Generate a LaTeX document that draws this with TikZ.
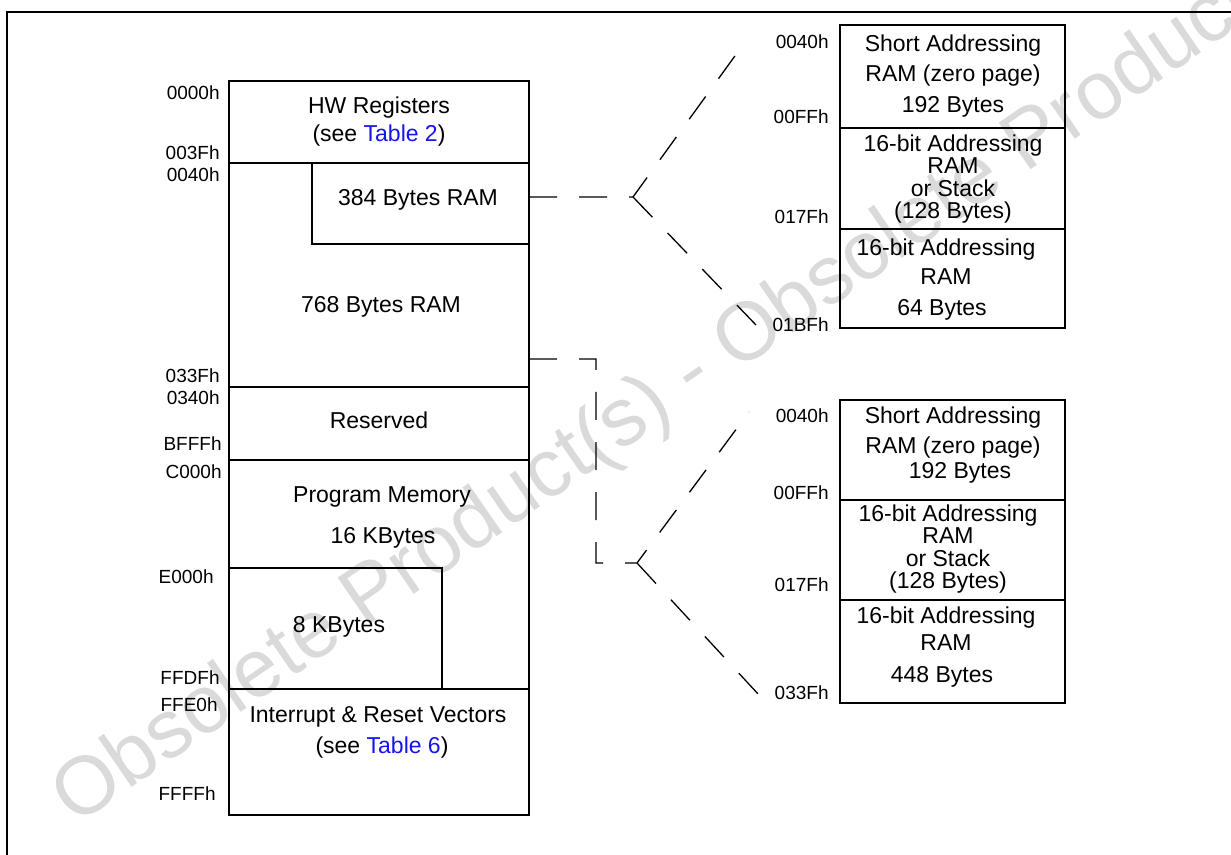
\documentclass[tikz,border=0pt]{standalone}
\usepackage{fontspec}
\setmainfont{Liberation Sans}
\definecolor{linkblue}{RGB}{20,20,235}
\definecolor{wmgray}{RGB}{218,218,218}

\begin{document}
\begin{tikzpicture}[x=0.5pt, y=-0.5pt,
		box/.style={line width=1pt},
		link/.style={line width=0.65pt, dash pattern=on 14pt off 11pt},
		txt/.style={font=\fontsize{11.5}{14}\selectfont, inner sep=0pt, align=center},
		addr/.style={font=\fontsize{9.5}{11}\selectfont, inner sep=0pt, anchor=east}]
		\useasboundingbox (0,0) rectangle (1231,855);
		% watermark
		\node[rotate=34.5, anchor=base west, inner sep=0pt, text=wmgray, font=\fontsize{41}{41}\selectfont] (wm) at (75,827) {Obsolete Product(s) - Obsolete Product(s)};
		\draw[box] (7,870) -- (7,12) -- (1240,12);
		% main map
		\draw[box] (229,81) rectangle (529,815);
		\draw[box] (229,163) -- (529,163);
		\draw[box] (312,163) rectangle (529,244);
		\draw[box] (229,387) -- (529,387);
		\draw[box] (229,460) -- (529,460);
		\draw[box] (229,568) -| (442,689);
		\draw[box] (229,689) -- (529,689);
		\node[txt] (hwreg) at (379,122) {HW Registers\\(see \textcolor{linkblue}{Table 2})};
		\node[txt] (ram384) at (418,200) {384 Bytes RAM};
		\node[txt] (ram768) at (381,307) {768 Bytes RAM};
		\node[txt] (resv) at (379,420) {Reserved};
		\node[txt] (prog) at (382,497) {Program Memory};
		\node[txt] (kb16) at (383,538) {16 KBytes};
		\node[txt] (kb8) at (339,627) {8 KBytes};
		\node[txt] (irq) at (378,717) {Interrupt \& Reset Vectors};
		\node[txt] (irqsee) at (382,748) {(see \textcolor{linkblue}{Table 6})};
		\node[addr] (a0000) at (220,93) {0000h};
		\node[addr] (a003F) at (220,153) {003Fh};
		\node[addr] (a0040) at (220,175) {0040h};
		\node[addr] (a033F) at (220,376) {033Fh};
		\node[addr] (a0340) at (220,398) {0340h};
		\node[addr] (aBFFF) at (222,444) {BFFFh};
		\node[addr] (aC000) at (222,472) {C000h};
		\node[addr] (aE000) at (214,577) {E000h};
		\node[addr] (aFFDF) at (220,678) {FFDFh};
		\node[addr] (aFFE0) at (218,705) {FFE0h};
		\node[addr] (aFFFF) at (216,794) {FFFFh};
		% upper zoom (384 bytes)
		\draw[box] (840,25) rectangle (1065,328);
		\draw[box] (840,128) -- (1065,128);
		\draw[box] (840,229) -- (1065,229);
		\node[txt, font=\fontsize{11.5}{15.3}\selectfont] (zpA) at (953,76) {Short Addressing\\RAM (zero page)\\192 Bytes};
		\node[txt, font=\fontsize{11.5}{11.2}\selectfont] (stkA) at (953,179) {16-bit Addressing\\RAM\\or Stack\\(128 Bytes)};
		\node[txt] (ramA1) at (946,250) {16-bit Addressing};
		\node[txt] (ramA2) at (946,277) {RAM};
		\node[txt] (ramA3) at (942,310) {64 Bytes};
		\node[addr] (uA0040) at (829,42) {0040h};
		\node[addr] (uA00FF) at (829,117) {00FFh};
		\node[addr] (uA017F) at (829,217) {017Fh};
		\node[addr] (uA01BF) at (829,325) {01BFh};
		% lower zoom (768 bytes)
		\draw[box] (840,400) rectangle (1065,703);
		\draw[box] (840,500) -- (1065,500);
		\draw[box] (840,600) -- (1065,600);
		\node[txt] (zpB1) at (953,418) {Short Addressing};
		\node[txt] (zpB2) at (953,448) {RAM (zero page)};
		\node[txt] (zpB3) at (960,473) {192 Bytes};
		\node[txt, font=\fontsize{11.5}{11.2}\selectfont] (stkB) at (948,549) {16-bit Addressing\\RAM\\or Stack\\(128 Bytes)};
		\node[txt] (ramB1) at (946,618) {16-bit Addressing};
		\node[txt] (ramB2) at (946,643) {RAM};
		\node[txt] (ramB3) at (942,677) {448 Bytes};
		\node[addr] (lB0040) at (829,416) {0040h};
		\node[addr] (lB00FF) at (829,493) {00FFh};
		\node[addr] (lB017F) at (829,585) {017Fh};
		\node[addr] (lB033F) at (829,693) {033Fh};
		% dashed leaders
		\coordinate (srcA) at (529,197);
		\coordinate (forkA) at (633,197);
		\coordinate (topA) at (745,42);
		\coordinate (botA) at (756,325);
		\draw[link] (srcA) -- (forkA) -- (topA);
		\draw[link] (forkA) -- (botA);
		\coordinate (srcB) at (529,359);
		\coordinate (bendB) at (596,563);
		\coordinate (forkB) at (637,563);
		\coordinate (topB) at (749,412);
		\coordinate (botB) at (759,695);
		\draw[link] (srcB) -| (bendB) -- (forkB) -- (topB);
		\draw[link] (forkB) -- (botB);
	\end{tikzpicture}
\end{document}
